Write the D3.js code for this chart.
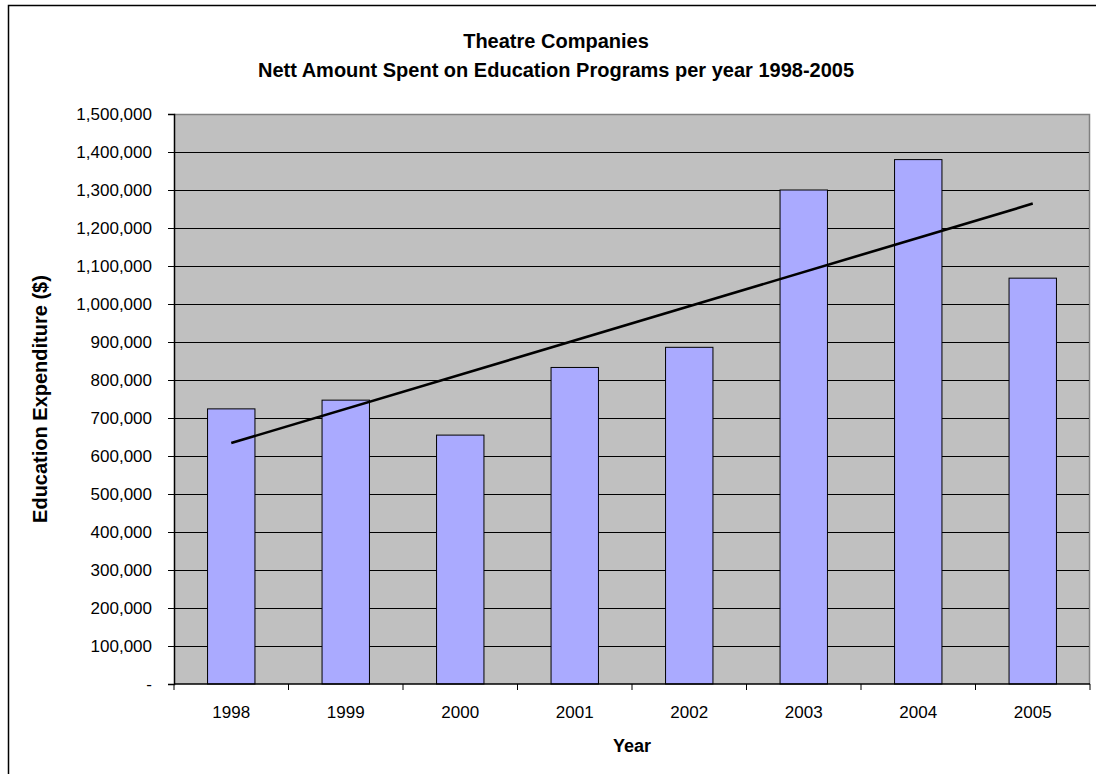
<!DOCTYPE html>
<html>
<head>
<meta charset="utf-8">
<script src="https://cdn.jsdelivr.net/npm/d3@7"></script>
<style>
  html, body { margin: 0; padding: 0; background: #fff; }
  svg { display: block; }
  text { font-family: "Liberation Sans", Arial, sans-serif; fill: #000; }
</style>
</head>
<body>
<svg id="chart" width="1096" height="774"></svg>
<script>
// Chart data
const years = ["1998", "1999", "2000", "2001", "2002", "2003", "2004", "2005"];
const expenditure = [724000, 747000, 655000, 833000, 886000, 1300000, 1380000, 1068000];
const yTicks = [0, 100000, 200000, 300000, 400000, 500000, 600000, 700000,
                800000, 900000, 1000000, 1100000, 1200000, 1300000, 1400000, 1500000];
const titleLines = ["Theatre Companies", "Nett Amount Spent on Education Programs per year 1998-2005"];
const xTitle = "Year";
const yTitle = "Education Expenditure ($)";

const svg = d3.select("#chart");

// Outer chart frame
svg.append("rect")
  .attr("x", 8.5).attr("y", 5.5)
  .attr("width", 1100).attr("height", 800)
  .attr("fill", "#fff").attr("stroke", "#000").attr("stroke-width", 1.5);

const plot = { left: 174, right: 1090, top: 114, bottom: 684 };

const x = d3.scaleBand()
  .domain(years)
  .range([plot.left, plot.right])
  .paddingInner(0.586)
  .paddingOuter(0.293);

const xCat = d3.scaleBand().domain(years).range([plot.left, plot.right]);

const y = d3.scaleLinear()
  .domain([0, 1500000])
  .range([plot.bottom, plot.top]);

// Plot background
svg.append("rect")
  .attr("x", plot.left).attr("y", plot.top)
  .attr("width", plot.right - plot.left).attr("height", plot.bottom - plot.top)
  .attr("fill", "#C0C0C0");

// Plot border (top and right)
svg.append("path")
  .attr("d", `M${plot.left},${plot.top + 0.5}H${plot.right - 0.5}V${plot.bottom}`)
  .attr("fill", "none").attr("stroke", "#808080").attr("stroke-width", 1.5);

// Gridlines
svg.append("g")
  .selectAll("line")
  .data(yTicks.filter(d => d > 0 && d < 1500000))
  .join("line")
  .attr("x1", plot.left).attr("x2", plot.right - 1)
  .attr("y1", d => Math.round(y(d)) + 0.5).attr("y2", d => Math.round(y(d)) + 0.5)
  .attr("stroke", "#000").attr("stroke-width", 1);

// Bars
svg.append("g")
  .selectAll("rect")
  .data(years.map((yr, i) => ({ yr, v: expenditure[i] })))
  .join("rect")
  .attr("x", d => x(d.yr))
  .attr("y", d => y(d.v))
  .attr("width", x.bandwidth())
  .attr("height", d => y(0) - y(d.v))
  .attr("fill", "#AAAAFF")
  .attr("stroke", "#000").attr("stroke-width", 1);

// Linear trend line (least squares over year index)
const n = expenditure.length;
const idx = d3.range(n);
const mx = d3.mean(idx), my = d3.mean(expenditure);
const slope = d3.sum(idx, i => (i - mx) * (expenditure[i] - my)) / d3.sum(idx, i => (i - mx) ** 2);
const intercept = my - slope * mx;
const cx = i => xCat(years[i]) + xCat.bandwidth() / 2;
svg.append("line")
  .attr("x1", cx(0)).attr("y1", y(intercept))
  .attr("x2", cx(n - 1)).attr("y2", y(intercept + slope * (n - 1)))
  .attr("stroke", "#000").attr("stroke-width", 2.6);

// Y axis
const fmt = d3.format(",");
const yAxis = d3.axisLeft(y)
  .tickValues(yTicks)
  .tickSize(6)
  .tickPadding(16)
  .tickFormat(d => d === 0 ? "-" : fmt(d));
const gy = svg.append("g")
  .attr("transform", `translate(${plot.left},0)`)
  .call(yAxis);
gy.select(".domain").attr("stroke", "#000").attr("stroke-width", 1.5);
gy.selectAll(".tick line").attr("stroke", "#000");
gy.selectAll(".tick text")
  .attr("font-size", 17).attr("fill", "#000")
  .style("font-family", "'Liberation Sans', Arial, sans-serif");

// X axis with ticks at category boundaries
const gx = svg.append("g")
  .attr("transform", `translate(0,${plot.bottom})`);
gx.append("line")
  .attr("x1", plot.left).attr("x2", plot.right)
  .attr("y1", 0).attr("y2", 0)
  .attr("stroke", "#000").attr("stroke-width", 1.5);
gx.selectAll("line.bound")
  .data(years.concat(["end"]))
  .join("line")
  .attr("class", "bound")
  .attr("x1", (d, i) => i < n ? xCat(d) : plot.right)
  .attr("x2", (d, i) => i < n ? xCat(d) : plot.right)
  .attr("y1", 0).attr("y2", 6)
  .attr("stroke", "#000");
gx.selectAll("text")
  .data(years)
  .join("text")
  .attr("x", d => xCat(d) + xCat.bandwidth() / 2)
  .attr("y", 34)
  .attr("text-anchor", "middle")
  .attr("font-size", 17)
  .text(d => d);

// Titles
svg.append("g").selectAll("text")
  .data(titleLines)
  .join("text")
  .attr("x", 556)
  .attr("y", (d, i) => 48 + i * 29)
  .attr("text-anchor", "middle")
  .attr("font-size", 20)
  .attr("font-weight", "bold")
  .text(d => d);

svg.append("text")
  .attr("x", (plot.left + plot.right) / 2)
  .attr("y", 752)
  .attr("text-anchor", "middle")
  .attr("font-size", 18)
  .attr("font-weight", "bold")
  .text(xTitle);

svg.append("text")
  .attr("transform", `translate(47,${(plot.top + plot.bottom) / 2}) rotate(-90)`)
  .attr("text-anchor", "middle")
  .attr("font-size", 20)
  .attr("font-weight", "bold")
  .text(yTitle);
</script>
</body>
</html>
